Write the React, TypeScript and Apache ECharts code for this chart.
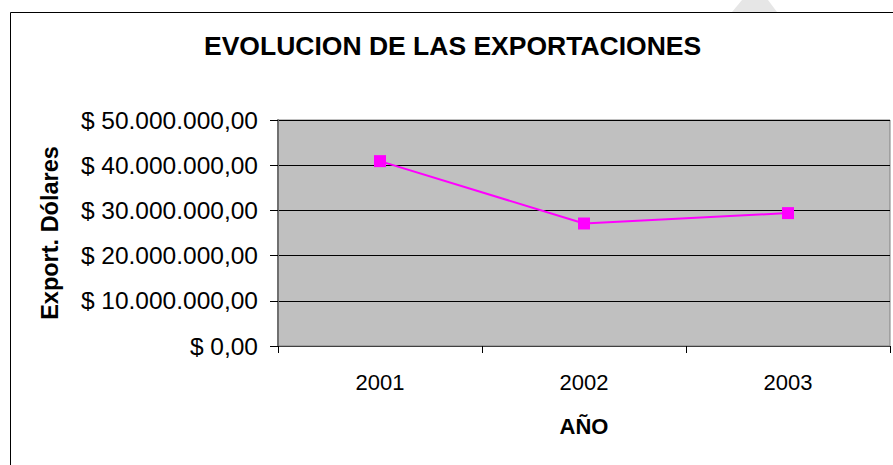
import React, { useEffect, useRef } from "react";
import * as echarts from "echarts";

const categories = ["2001", "2002", "2003"];
const exportValues = [40900000, 27100000, 29400000];
const yMin = 0;
const yMax = 50000000;
const yStep = 10000000;

const titleText = "EVOLUCION DE LAS EXPORTACIONES";
const yName = "Export. Dólares";
const xName = "AÑO";

const FONT = "'Liberation Sans', Arial, sans-serif";

function fmtMoney(v: number): string {
  const s = Math.round(v).toString().replace(/\B(?=(\d{3})+(?!\d))/g, ".");
  return "$ " + s + ",00";
}

export default function App() {
  const ref = useRef<HTMLDivElement>(null);
  useEffect(() => {
    if (!ref.current) return;
    const chart = echarts.init(ref.current, null, { renderer: "svg" });
    chart.setOption({
      animation: false,
      backgroundColor: "#ffffff",
      title: {
        text: titleText,
        left: 199,
        top: 27,
        textStyle: { fontFamily: FONT, fontSize: 26.5, fontWeight: "bold", color: "#000" },
      },
      graphic: [
        {
          type: "polygon",
          silent: true,
          shape: { points: [[732, 12], [742, 0], [768, 0], [777, 12]] },
          style: { fill: "#e6e6e6" },
        },
        {
          type: "rect",
          silent: true,
          shape: { x: 10.5, y: 12.5, width: 900, height: 500 },
          style: { fill: "none", stroke: "#000", lineWidth: 1 },
        },
      ],
      grid: {
        left: 278,
        top: 120,
        right: 3,
        bottom: 119,
        show: true,
        backgroundColor: "#c0c0c0",
        borderColor: "#808080",
        borderWidth: 1,
      },
      xAxis: {
        type: "category",
        data: categories,
        boundaryGap: true,
        name: xName,
        nameLocation: "middle",
        nameGap: 69,
        nameTextStyle: { fontFamily: FONT, fontSize: 22, fontWeight: "bold", color: "#000" },
        axisLine: { lineStyle: { color: "#404040", width: 1 } },
        axisTick: { show: true, length: 7, inside: false, lineStyle: { color: "#000" } },
        axisLabel: { fontFamily: FONT, fontSize: 22, color: "#000", margin: 25 },
        splitLine: { show: false },
      },
      yAxis: {
        type: "value",
        min: yMin,
        max: yMax,
        interval: yStep,
        name: yName,
        nameLocation: "middle",
        nameRotate: 90,
        nameGap: 216,
        nameTextStyle: { fontFamily: FONT, fontSize: 23.5, fontWeight: "bold", color: "#000" },
        axisLine: { show: true, lineStyle: { color: "#707070", width: 2 } },
        axisTick: { show: true, length: 8, inside: false, lineStyle: { color: "#000" } },
        axisLabel: {
          fontFamily: FONT,
          fontSize: 24.5,
          color: "#000",
          margin: 20,
          formatter: (v: number) => fmtMoney(v),
        },
        splitLine: { show: true, lineStyle: { color: "#000", width: 1 } },
      },
      series: [
        {
          type: "line",
          data: exportValues,
          symbol: "rect",
          symbolSize: 12,
          lineStyle: { color: "#ff00ff", width: 2 },
          itemStyle: { color: "#ff00ff" },
        },
      ],
    });
    return () => chart.dispose();
  }, []);
  return <div ref={ref} style={{ width: 893, height: 465, position: "absolute", left: 0, top: 0 }} />;
}
